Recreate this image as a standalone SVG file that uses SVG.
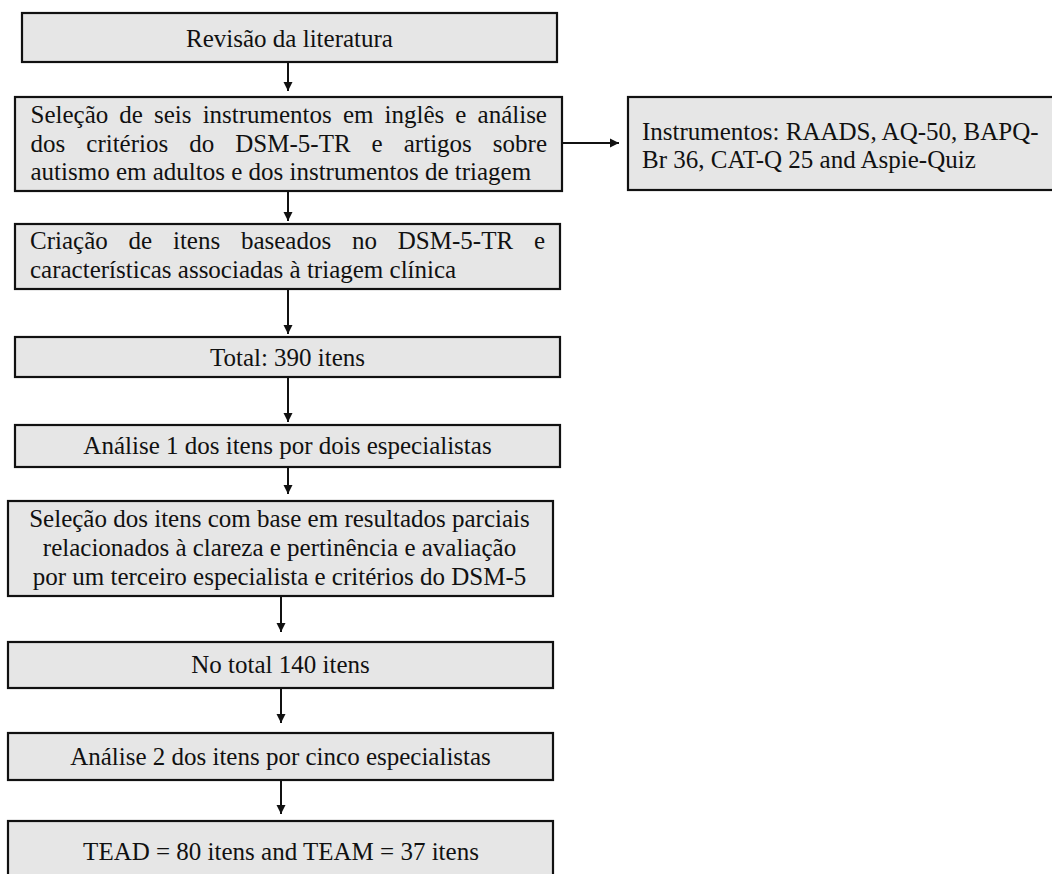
<svg xmlns="http://www.w3.org/2000/svg" width="1052" height="874" viewBox="0 0 1052 874">
<style>
  .box { fill: #e6e6e6; stroke: #111; stroke-width: 2.2; }
  .t { font-family: "Liberation Serif", "Times New Roman", serif; font-size: 25px; fill: #111; }
  .c { text-anchor: middle; }
  .conn { stroke: #111; stroke-width: 2; fill: none; marker-end: url(#ah); }
</style>
<defs>
  <marker id="ah" viewBox="0 0 10 10" refX="10" refY="5" markerWidth="9" markerHeight="10" markerUnits="userSpaceOnUse" orient="auto">
    <path d="M0,0 L10,5 L0,10 z" fill="#111"/>
  </marker>
</defs>
<rect width="1052" height="874" fill="#ffffff"/>
<g id="connectors">
  <line class="conn" x1="288" y1="63" x2="288" y2="91"/>
  <line class="conn" x1="562" y1="143" x2="619" y2="143"/>
  <line class="conn" x1="288" y1="191" x2="288" y2="221"/>
  <line class="conn" x1="288" y1="290" x2="288" y2="334"/>
  <line class="conn" x1="288" y1="378" x2="288" y2="422"/>
  <line class="conn" x1="288" y1="468" x2="288" y2="494"/>
  <line class="conn" x1="281" y1="597" x2="281" y2="632"/>
  <line class="conn" x1="281" y1="689" x2="281" y2="723"/>
  <line class="conn" x1="281" y1="781" x2="281" y2="814"/>
</g>
<g id="n1">
  <rect class="box" x="22" y="13" width="535" height="49"/>
  <text class="t c" x="289.5" y="47">Revisão da literatura</text>
</g>
<g id="n2">
  <rect class="box" x="15" y="97" width="547" height="94"/>
  <text class="t" x="30.5" y="123" word-spacing="4.85">Seleção de seis instrumentos em inglês e análise</text>
  <text class="t" x="30.5" y="152" word-spacing="14.8">dos critérios do DSM-5-TR e artigos sobre</text>
  <text class="t" x="30.5" y="180">autismo em adultos e dos instrumentos de triagem</text>
</g>
<g id="n2b">
  <rect class="box" x="628" y="97" width="430" height="93"/>
  <text class="t" x="642" y="140">Instrumentos: RAADS, AQ-50, BAPQ-</text>
  <text class="t" x="642" y="168">Br 36, CAT-Q 25 and Aspie-Quiz</text>
</g>
<g id="n3">
  <rect class="box" x="15" y="224" width="545" height="65"/>
  <text class="t" x="30" y="249" word-spacing="14.55">Criação de itens baseados no DSM-5-TR e</text>
  <text class="t" x="30" y="278">características associadas à triagem clínica</text>
</g>
<g id="n4">
  <rect class="box" x="15" y="337" width="545" height="40"/>
  <text class="t c" x="287.5" y="366">Total: 390 itens</text>
</g>
<g id="n5">
  <rect class="box" x="15" y="425" width="545" height="42"/>
  <text class="t c" x="287.5" y="454">Análise 1 dos itens por dois especialistas</text>
</g>
<g id="n6">
  <rect class="box" x="8" y="501" width="545" height="95"/>
  <text class="t c" x="279.5" y="527">Seleção dos itens com base em resultados parciais</text>
  <text class="t c" x="279.5" y="556">relacionados à clareza e pertinência e avaliação</text>
  <text class="t c" x="279.5" y="585">por um terceiro especialista e critérios do DSM-5</text>
</g>
<g id="n7">
  <rect class="box" x="8" y="642" width="545" height="46"/>
  <text class="t c" x="280.5" y="673">No total 140 itens</text>
</g>
<g id="n8">
  <rect class="box" x="8" y="733" width="545" height="47"/>
  <text class="t c" x="280.5" y="765">Análise 2 dos itens por cinco especialistas</text>
</g>
<g id="n9">
  <rect class="box" x="8" y="821" width="545" height="70"/>
  <text class="t c" x="281" y="860">TEAD = 80 itens and TEAM = 37 itens</text>
</g>
</svg>
